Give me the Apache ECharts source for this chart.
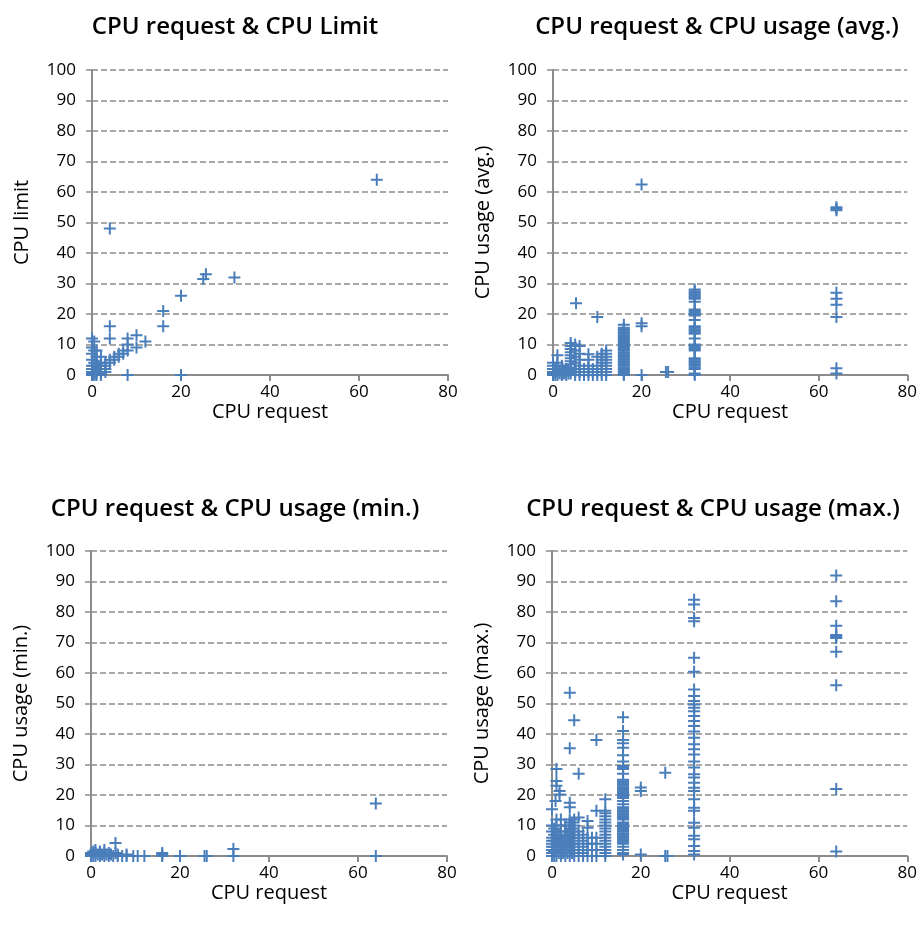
<!DOCTYPE html>
<html>
<head>
<meta charset="utf-8">
<script src="https://cdn.jsdelivr.net/npm/echarts@6/dist/echarts.min.js"></script>
<style>
  html, body { margin: 0; padding: 0; background: #fff; }
  #chart { width: 920px; height: 928px; }
</style>
</head>
<body>
<div id="chart"></div>
<script>
// titles / axis names
var titles = ['CPU request & CPU Limit', 'CPU request & CPU usage (avg.)',
              'CPU request & CPU usage (min.)', 'CPU request & CPU usage (max.)'];
var yNames = ['CPU limit', 'CPU usage (avg.)', 'CPU usage (min.)', 'CPU usage (max.)'];
var xName = 'CPU request';

// [CPU request, value]
var limitPts = [
  [0,12],[0.5,11],[0,9],[0.5,8],[1,8],[0,7],[1,6],[2,6],[0,5],[0.5,4],[1,4],[2,4],
  [0,3],[0.5,3],[1,3],[1.5,3],[2,3],[0,2],[0.5,2],[1,2],[1.5,2],[2,2],[3,2],
  [0,1],[0.5,1],[1,1],[2,1],[3,1],[0,0.5],[0.5,0.5],[1,0.5],[2,0.5],
  [0,0],[0.5,0],[1,0],[2,0],[3,3],[3,4],[4,4],[4,5],[5,5],[5,6],[6,6],[6,7],
  [7,7],[7,8],[8,8],[8,10],[10,9],[8,12],[10,13],[12,11],[4,12],[4,16],[4,48],
  [8,0],[16,16],[16,21],[20,26],[20,0],[25,31.5],[25.6,33],[32,32],[64,64]
];

var avgPts = [
  [0,0],[0,0.5],[0,1],[0,2],[0,3],[0,4],[0.5,0],[0.5,1],[0.5,2],[1,0],[1,1],[1,2],[1,4],[1,6.5],
  [1.5,0.5],[1.5,1.5],[2,0],[2,0.5],[2,1],[2,2],[2,3],[2.5,0.5],[2.5,1.5],[3,0],[3,1],[3,2],[3.5,0.5],[3.5,1.5],
  [4,0.5],[4,1.5],[4,2.5],[4,3.5],[4,4.5],[4,5.5],[4,6.5],[4,7.5],[4,8.5],[4,9.5],[4,10.5],
  [5,0],[5,1],[5,2],[5,4],[5,6],[5,8],[5,10],[5.2,23.5],
  [6,0],[6,1],[6,2],[6,3],[6,5],[6,7],[6,9.5],[7,0],[7,1],[7,2],
  [8,0],[8,1],[8,2],[8,3],[8,5],[8,6.8],[9,0],[9,1],[9,2],
  [10,0],[10,1],[10,3],[10,6],[10,19],
  [11,0],[11,1],[11,2],[11,3],[11,4],[11,5],[11,6],[11,7],
  [12,0],[12,1],[12,2],[12,3],[12,4],[12,5],[12,6],[12,7],[12,8],
  [16,0],[16,0.5],[16,1],[16,1.5],[16,2],[16,2.5],[16,3],[16,3.5],[16,4],[16,4.5],[16,5],[16,5.5],
  [16,6],[16,6.5],[16,7],[16,7.5],[16,8],[16,8.5],[16,9],[16,9.5],[16,10],[16,10.5],[16,11],[16,11.5],
  [16,12],[16,12.5],[16,13],[16,13.5],[16,14],[16,14.5],[16,15],[16,15.5],[16,16.5],
  [20,62.5],[20,17],[20,16],[20,0],[25.5,1],[26,1],
  [32,28],[32,27.5],[32,27],[32,26.5],[32,26],[32,25.5],[32,25],[32,24],[32,21.5],[32,21],[32,20.5],
  [32,20],[32,19.5],[32,18],[32,16],[32,15.5],[32,15],[32,14.5],[32,14],[32,13.5],[32,12],[32,10],
  [32,9.5],[32,9],[32,8.5],[32,8],[32,5.5],[32,5],[32,4.5],[32,4],[32,3.5],[32,3],[32,2.5],[32,2],
  [32,0.5],[32,0],
  [64,55],[64,54.5],[64,54],[64,27],[64,25],[64,23],[64,19],[64,2.2],[64,0.5]
];

var minPts = [
  [0,0],[0,0.5],[0,1],[0.5,0],[0.5,1.5],[1,0],[1,1],[1,2],[1.5,0.5],[2,0],[2,1],[2,1.5],
  [2.5,0.5],[3,0],[3,1],[3,2],[3.5,0.5],[4,0],[4,1],[4.5,0.5],[5,0],[5.5,4.3],[5.5,1],
  [6,0.5],[6,0],[7,0],[8,0.5],[8,0],[9.5,0],[10.5,0],[12,0],[16,0.5],[16,1],[16,0],
  [20,0],[25.5,0],[26,0],[32,2.3],[32,0],[64,17.2],[64,0]
];

var maxPts = [
  [0,0],[0,1],[0,2],[0,3],[0,4],[0,5],[0,6],[0,8],[0,10],[0,15.3],
  [0.5,0],[0.5,1.5],[0.5,3],[0.5,5],[0.5,7],[0.5,9],[1,0],[1,2],[1,4],[1,6],[1,8],[1,10],[1,12],
  [0.8,18],[1,23],[1,24.6],[1,28.5],[1.7,20.2],[1.7,21.3],
  [1.5,1],[1.5,3],[1.5,5],[1.5,7],[2,0],[2,2],[2,4],[2,6],[2,8],[2,10],[2,12],[2.5,1],[2.5,3],[2.5,5],
  [3,0],[3,2],[3,4],[3,6],[3,8],[3,10],[3.5,1],[3.5,3],[3.5,5],[3.5,7],
  [4,0],[4,2],[4,4],[4,6],[4,7],[4,8],[4,9],[4,10],[4,11],[4,12],[4,16],[4,17.5],[4,35.3],[4,53.5],
  [4.5,1],[4.5,3],[4.5,5],[4.5,7],[4.5,9],[4.5,11],[5,0],[5,2],[5,4],[5,6],[5,8],[5,10],[5,12],[5,44.5],
  [6,0],[6,2],[6,4],[6,6],[6,8],[6,12.6],[6,27],[7,0],[7,1],[7,3],[7,5],[7,7],
  [8,0],[8,2],[8,4],[8,6],[8,9.3],[8,11.5],[9,0],[9,2],[9,4],[9,6],
  [10,0],[10,2],[10,4],[10,6],[10,14.8],[10,38],
  [12,0],[12,1],[12,2],[12,3],[12,4],[12,5],[12,6],[12,7],[12,8],[12,9],[12,10],[12,11],[12,12],
  [12,13],[12,14],[12,14.8],[12,18.6],
  [16,45.5],[16,41],[16,38],[16,37],[16,35.5],[16,33],[16,31],[16,29.5],[16,29],[16,28.5],[16,27],
  [16,25],[16,24.5],[16,24],[16,23.5],[16,23],[16,22.5],[16,22],[16,21.5],[16,21],[16,20.5],[16,20],
  [16,19.5],[16,19],[16,18],[16,17],[16,16],[16,15.5],[16,15],[16,14.5],[16,14],[16,13.5],[16,13],
  [16,12.5],[16,12],[16,11],[16,10.5],[16,10],[16,9.5],[16,9],[16,8.5],[16,8],[16,7.5],[16,7],
  [16,6.5],[16,6],[16,5.5],[16,5],[16,4.5],[16,4],[16,3],[16,2],[16,1],[16,0.5],
  [20,22.5],[20,21.3],[20,0.5],[25.5,27.3],[25.5,0],[26,0],
  [32,84],[32,82.5],[32,78],[32,77],[32,65],[32,60.4],[32,54.6],[32,52.5],[32,50.8],[32,49.7],
  [32,48.6],[32,47.5],[32,45.9],[32,44.3],[32,42.6],[32,40.8],[32,38.8],[32,36.6],[32,35],[32,33.3],
  [32,31],[32,29],[32,26.8],[32,25.7],[32,24],[32,22.4],[32,21.3],[32,18.6],[32,15.8],[32,14.8],
  [32,10.9],[32,9.3],[32,6.6],[32,5.5],[32,3.3],[32,1.6],[32,0.5],
  [64,92],[64,83.5],[64,75.5],[64,72.5],[64,71.5],[64,72],[64,67],[64,56],[64,22],[64,1.5]
];

var seriesData = [limitPts, avgPts, minPts, maxPts];

var xTicks = { min: 0, max: 80, interval: 20 };
var yTicks = { min: 0, max: 100, interval: 10 };

var grids = [
  { left: 92, top: 70, width: 356, height: 305 },
  { left: 553, top: 70, width: 355, height: 305 },
  { left: 91, top: 551, width: 356, height: 305 },
  { left: 552, top: 551, width: 356, height: 305 }
];
var titlePos = [[230, 10], [712, 10], [230, 492], [708, 492]];

var FONT = 'Open Sans';
var axisGray = '#8c8c8c';
var blue = '#4a7ebb';
var plus = 'path://M5,0H7V5H12V7H7V12H5V7H0V5H5Z';

var option = {
  animation: false,
  backgroundColor: '#fff',
  title: titles.map(function (t, i) {
    return {
      text: t, left: titlePos[i][0], top: titlePos[i][1], textAlign: 'center',
      textStyle: { fontFamily: FONT, fontSize: 24, fontWeight: 600, color: '#000' }
    };
  }),
  grid: grids,
  xAxis: grids.map(function (g, i) {
    return {
      gridIndex: i, type: 'value', min: xTicks.min, max: xTicks.max, interval: xTicks.interval,
      name: xName, nameLocation: 'middle', nameGap: 26,
      nameTextStyle: { fontFamily: FONT, fontSize: 20, color: '#000' },
      axisLine: { show: true, onZero: false, lineStyle: { color: axisGray, width: 2 } },
      axisTick: { show: true, length: 6, lineStyle: { color: axisGray, width: 2 } },
      axisLabel: { fontFamily: FONT, fontSize: 17, color: '#000', margin: 9 },
      splitLine: { show: false }
    };
  }),
  yAxis: grids.map(function (g, i) {
    return {
      gridIndex: i, type: 'value', min: yTicks.min, max: yTicks.max, interval: yTicks.interval,
      name: yNames[i], nameLocation: 'middle', nameGap: 60,
      nameTextStyle: { fontFamily: FONT, fontSize: 20, color: '#000' },
      axisLine: { show: true, lineStyle: { color: axisGray, width: 2 } },
      axisTick: { show: true, length: 6, lineStyle: { color: axisGray, width: 1.5 } },
      axisLabel: { fontFamily: FONT, fontSize: 17, color: '#000', margin: 16 },
      splitLine: { show: true, lineStyle: { color: axisGray, width: 1.5, type: [6, 3] } }
    };
  }),
  series: seriesData.map(function (d, i) {
    return {
      type: 'scatter', xAxisIndex: i, yAxisIndex: i, data: d,
      symbol: plus, symbolSize: 12,
      itemStyle: { color: blue, opacity: 1 }
    };
  })
};

var myChart = echarts.init(document.getElementById('chart'), null, { renderer: 'canvas' });
myChart.setOption(option);
</script>
</body>
</html>
